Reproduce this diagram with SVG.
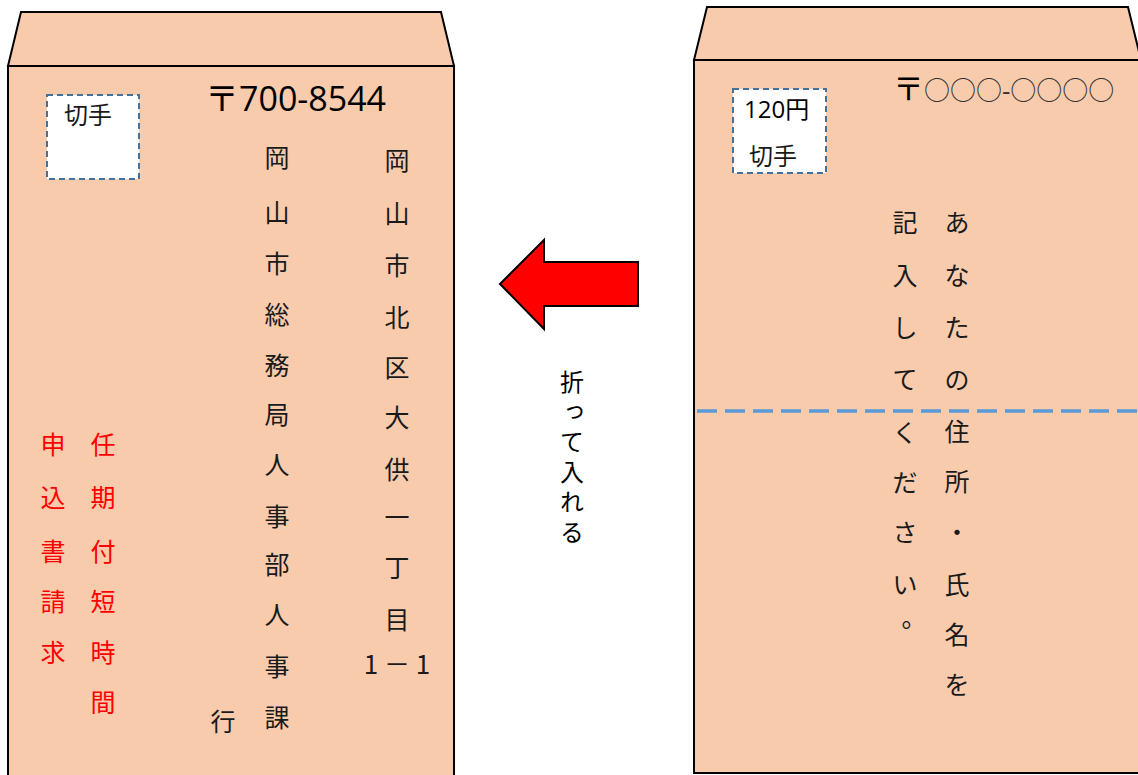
<svg xmlns="http://www.w3.org/2000/svg" width="1138" height="775" viewBox="0 0 1138 775">
<style>
.env{fill:#F8CBAD;stroke:#000;stroke-width:2;stroke-linejoin:miter}
.stamp{fill:#fff;stroke:#41719C;stroke-width:2;stroke-dasharray:6 4}
.jp{font-family:"Noto Sans CJK JP","Noto Sans",sans-serif;font-size:25px;fill:#1a1a1a;text-anchor:middle}
.red{fill:#FF0000}
.lat{font-family:"Open Sans","Noto Sans","Noto Sans CJK JP",sans-serif;fill:#000}
.vert{font-family:"Noto Sans CJK JP",serif;font-size:24px;fill:#000;writing-mode:vertical-rl;letter-spacing:6px}
</style>
<rect width="1138" height="775" fill="#fff"/>
<g id="left-envelope">
<polygon class="env" points="8,66 21,12 441,12 454,66"/>
<rect class="env" x="8" y="66" width="446" height="720"/>
<rect class="stamp" x="47" y="95" width="92" height="84"/>
<text class="jp" x="88" y="124" style="font-size:24px">切手</text>
<text class="lat" x="205" y="111" style="font-size:34px">〒700-8544</text>
<text class="jp"><tspan x="277" y="167">岡</tspan><tspan x="277" y="222">山</tspan><tspan x="277" y="273">市</tspan><tspan x="277" y="324">総</tspan><tspan x="277" y="375">務</tspan><tspan x="277" y="424">局</tspan><tspan x="277" y="474">人</tspan><tspan x="277" y="526">事</tspan><tspan x="277" y="574">部</tspan><tspan x="277" y="624">人</tspan><tspan x="277" y="676">事</tspan><tspan x="277" y="727">課</tspan></text>
<text class="jp"><tspan x="397" y="170">岡</tspan><tspan x="397" y="223">山</tspan><tspan x="397" y="275">市</tspan><tspan x="397" y="327">北</tspan><tspan x="397" y="377">区</tspan><tspan x="397" y="427">大</tspan><tspan x="397" y="479">供</tspan><tspan x="397" y="527">一</tspan><tspan x="397" y="577">丁</tspan><tspan x="397" y="629">目</tspan><tspan x="397" y="674" style="font-size:26px">1 － 1</tspan></text>
<text class="jp" x="223" y="731">行</text>
<text class="jp red"><tspan x="53" y="454">申</tspan><tspan x="53" y="507">込</tspan><tspan x="53" y="561">書</tspan><tspan x="53" y="611">請</tspan><tspan x="53" y="662">求</tspan></text>
<text class="jp red"><tspan x="103" y="454">任</tspan><tspan x="103" y="507">期</tspan><tspan x="103" y="561">付</tspan><tspan x="103" y="611">短</tspan><tspan x="103" y="662">時</tspan><tspan x="103" y="712">間</tspan></text>
</g>
<g id="right-envelope">
<polygon class="env" points="694,60 707,7 1128,7 1141,60"/>
<rect class="env" x="694" y="60" width="460" height="713"/>
<rect class="stamp" x="733" y="89" width="93" height="84"/>
<text class="lat" x="744" y="118" style="font-size:24px">120円</text>
<text class="jp" x="773" y="165" style="font-size:24px">切手</text>
<text class="lat" x="893" y="100" style="font-size:31px">〒<tspan style="font-size:26px;fill:#333">○○○-○○○○</tspan></text>
<line x1="697" y1="411" x2="1138" y2="411" stroke="#5B9BD5" stroke-width="3.5" stroke-dasharray="20 8"/>
<text class="jp"><tspan x="905" y="232">記</tspan><tspan x="905" y="285">入</tspan><tspan x="905" y="337">し</tspan><tspan x="905" y="389">て</tspan><tspan x="905" y="442">く</tspan><tspan x="905" y="492">だ</tspan><tspan x="905" y="542">さ</tspan><tspan x="905" y="594">い</tspan><tspan x="914" y="627">。</tspan></text>
<text class="jp"><tspan x="957" y="232">あ</tspan><tspan x="957" y="285">な</tspan><tspan x="957" y="337">た</tspan><tspan x="957" y="389">の</tspan><tspan x="957" y="441">住</tspan><tspan x="957" y="491">所</tspan><tspan x="957" y="542">・</tspan><tspan x="957" y="594">氏</tspan><tspan x="957" y="644">名</tspan><tspan x="957" y="694">を</tspan></text>
</g>
<g id="fold-arrow">
<polygon points="500,284 544,240 544,262 638,262 638,306 544,306 544,329" fill="#FF0000" stroke="#000" stroke-width="2"/>
<text class="vert" x="572" y="370">折って入れる</text>
</g>
</svg>
